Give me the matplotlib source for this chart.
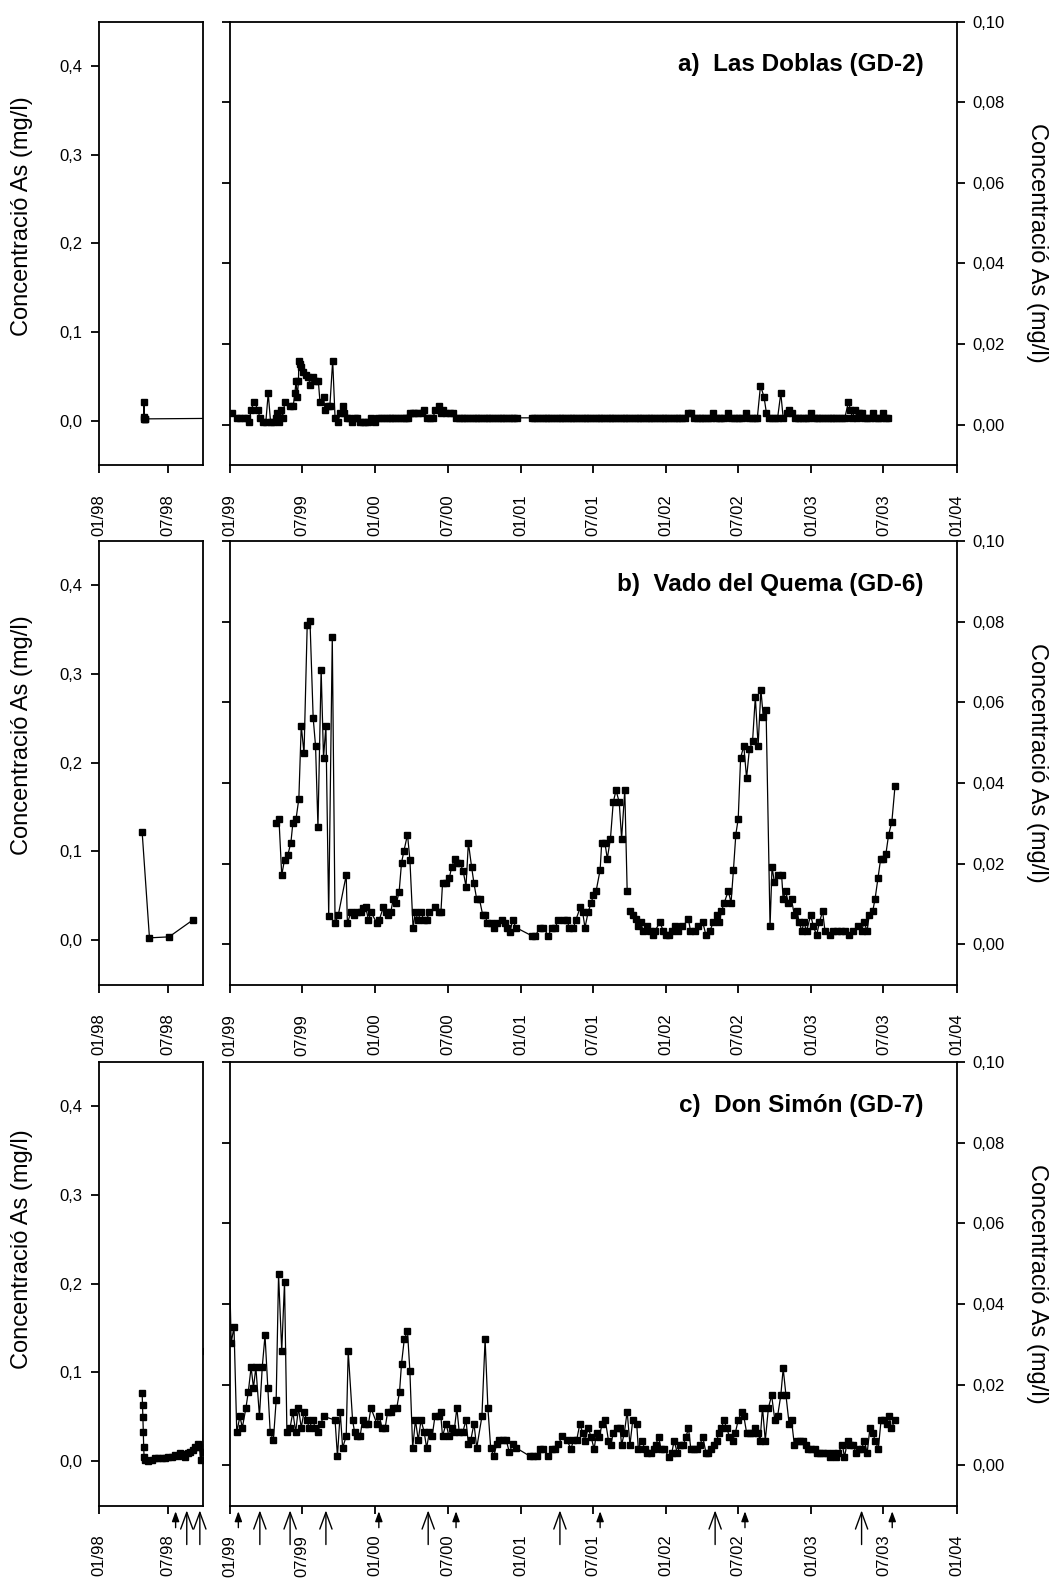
import numpy as np
import matplotlib
matplotlib.use("Agg")
import matplotlib.pyplot as plt
import matplotlib.dates as mdates
from matplotlib.ticker import FuncFormatter

plt.rcParams['font.family'] = ['Liberation Sans', 'DejaVu Sans']

NAN = float('nan')

# ------------------------------------------------------------------ data
panel_titles = ['a)  Las Doblas (GD-2)', 'b)  Vado del Quema (GD-6)', 'c)  Don Simón (GD-7)']
y_label = 'Concentració As (mg/l)'
left_yticks = [0.0, 0.1, 0.2, 0.3, 0.4]
right_yticks = [0.00, 0.02, 0.04, 0.06, 0.08, 0.10]
small_xticks = ['1998-01-01', '1998-07-01']
small_xticklabels = ['01/98', '07/98']
big_xticks = ['1999-01-01', '1999-07-01', '2000-01-01', '2000-07-01', '2001-01-01', '2001-07-01',
              '2002-01-01', '2002-07-01', '2003-01-01', '2003-07-01', '2004-01-01']
big_xticklabels = ['01/99', '07/99', '01/00', '07/00', '01/01', '07/01',
                   '01/02', '07/02', '01/03', '07/03', '01/04']

# 1998 samples: (days since 1998-01-01, As mg/l)
a98_obs = [(117, .0020), (118, .0205), (119, .0040), (120, .0020), (121, .0020)]
b98_obs = [(113, .1216), (132, .0026), (183, .0037), (244, .0225)]
c98_obs = [(113, .0766), (114, .0634), (115, .0494), (116, .0332), (117, .0155), (118, .0049),
           (120, .0011), (129, .0004), (138, .0011), (146, .0030), (155, .0030), (164, .0030),
           (172, .0030), (181, .0042), (190, .0049), (198, .0068), (205, .0057), (212, .0094),
           (218, .0079), (225, .0049), (231, .0094), (238, .0106), (244, .0125), (251, .0155),
           (257, .0193), (262, .0155), (265, .0011), (270, .0106), (278, .1240), (353, .0940)]

# 1999-2003 samples: (days since 1999-01-01, As mg/l)
a_obs = [
    (4, .0028), (17, .0017), (25, .0017), (34, .0017), (42, .0017), (48, .0006), (53, .0037), (61, .0057),
    (70, .0037), (75, .0017), (82, .0006), (90, .0006), (96, .0078), (102, .0006), (109, .0006), (116, .0017),
    (119, .0028), (123, .0006), (128, .0037), (132, .0017), (138, .0057), (151, .0047), (159, .0047), (163, .0078),
    (166, .0108), (169, .0068), (172, .0108), (173, .0159), (176, .0151), (179, .0142), (184, .0130), (191, .0122),
    (197, .0118), (201, .0099), (208, .0118), (214, .0108), (222, .0108), (226, .0057), (235, .0068), (239, .0037),
    (245, .0047), (251, .0047), (258, .0159), (264, .0017), (271, .0006), (277, .0028), (283, .0047), (287, .0028),
    (293, .0017), (300, .0017), (306, .0006), (313, .0017), (318, .0017), (327, .0006), (333, .0006), (339, .0006),
    (346, .0006), (354, .0017), (364, .0006), (373, .0017), (380, .0017), (387, .0017), (394, .0017), (401, .0017),
    (408, .0017), (415, .0017), (422, .0017), (429, .0017), (436, .0017), (443, .0017), (448, .0017), (452, .0028),
    (459, .0028), (466, .0028), (473, .0028), (482, .0028), (488, .0037), (494, .0017), (503, .0017), (511, .0017),
    (515, .0037), (524, .0047), (529, .0028), (534, .0037), (543, .0028), (553, .0028), (561, .0028), (568, .0017),
    (575, .0017), (582, .0017), (589, .0017), (596, .0017), (603, .0017), (610, .0017), (617, .0017), (624, .0017),
    (631, .0017), (638, .0017), (645, .0017), (652, .0017), (659, .0017), (666, .0017), (673, .0017), (680, .0017),
    (687, .0017), (694, .0017), (701, .0017), (708, .0017), (714, .0017), (720, .0017),
    (758, .0017), (765, .0017), (772, .0017), (779, .0017), (786, .0017), (793, .0017), (800, .0017), (807, .0017),
    (814, .0017), (821, .0017), (828, .0017), (835, .0017), (842, .0017), (849, .0017), (856, .0017), (863, .0017),
    (870, .0017), (877, .0017), (884, .0017), (891, .0017), (898, .0017), (905, .0017), (912, .0017), (919, .0017),
    (926, .0017), (933, .0017), (940, .0017), (947, .0017), (954, .0017), (961, .0017), (968, .0017), (975, .0017),
    (982, .0017), (989, .0017), (996, .0017), (1003, .0017), (1010, .0017), (1017, .0017), (1024, .0017), (1031, .0017),
    (1038, .0017), (1045, .0017), (1052, .0017), (1059, .0017), (1066, .0017), (1073, .0017), (1080, .0017), (1087, .0017),
    (1094, .0017), (1101, .0017), (1108, .0017), (1115, .0017), (1122, .0017), (1129, .0017), (1136, .0017), (1143, .0017),
    (1152, .0028), (1159, .0028), (1166, .0017), (1173, .0017), (1180, .0017), (1187, .0017), (1194, .0017), (1201, .0017),
    (1208, .0017), (1214, .0028), (1221, .0017), (1228, .0017), (1235, .0017), (1242, .0017), (1252, .0028), (1259, .0017),
    (1266, .0017), (1273, .0017), (1280, .0017), (1287, .0017), (1297, .0028), (1304, .0017), (1311, .0017), (1318, .0017),
    (1325, .0017), (1333, .0097), (1342, .0068), (1348, .0028), (1355, .0017), (1362, .0017), (1369, .0017), (1376, .0017),
    (1384, .0078), (1390, .0017), (1399, .0028), (1405, .0037), (1412, .0028), (1419, .0017), (1426, .0017), (1433, .0017),
    (1440, .0017), (1447, .0017), (1453, .0017), (1460, .0028), (1467, .0017), (1474, .0017), (1481, .0017), (1488, .0017),
    (1495, .0017), (1502, .0017), (1509, .0017), (1516, .0017), (1523, .0017), (1530, .0017), (1537, .0017), (1545, .0017),
    (1554, .0057), (1559, .0037), (1564, .0017), (1570, .0037), (1576, .0017), (1581, .0028), (1587, .0028), (1593, .0017),
    (1600, .0017), (1608, .0017), (1615, .0028), (1621, .0017), (1629, .0017), (1635, .0017), (1641, .0028), (1648, .0017),
    (1654, .0017)]

b_obs = [
    (116, .0301), (123, .0311), (130, .0171), (137, .0210), (145, .0220), (153, .0252), (158, .0301), (166, .0311),
    (173, .0361), (179, .0542), (186, .0473), (194, .0792), (201, .0801), (209, .0561), (215, .0491), (221, .0291),
    (229, .0681), (235, .0462), (241, .0542), (248, .0070), (257, .0761), (264, .0052), (272, .0072), (292, .0171),
    (295, .0052), (304, .0080), (311, .0072), (318, .0080), (328, .0080), (335, .0090), (341, .0091), (348, .0060),
    (354, .0080), (369, .0052), (375, .0060), (385, .0091), (391, .0080), (398, .0072), (404, .0080), (410, .0111),
    (418, .0101), (425, .0130), (431, .0202), (437, .0231), (446, .0272), (452, .0210), (460, .0041), (466, .0080),
    (472, .0060), (480, .0080), (487, .0060), (494, .0060), (501, .0080), (515, .0091), (524, .0080), (530, .0080),
    (534, .0151), (543, .0151), (551, .0163), (557, .0192), (565, .0212), (571, .0202), (578, .0202), (586, .0181),
    (593, .0143), (599, .0252), (607, .0192), (613, .0151), (620, .0111), (627, .0111), (635, .0072), (641, .0072),
    (647, .0052), (655, .0052), (663, .0041), (670, .0052), (684, .0060), (691, .0052), (697, .0041), (704, .0031),
    (710, .0060), (719, .0041), (758, .0021), (767, .0021), (779, .0041), (787, .0041), (800, .0021), (808, .0041),
    (817, .0041), (825, .0060), (838, .0060), (846, .0060), (853, .0041), (863, .0041), (869, .0060), (880, .0091),
    (886, .0080), (892, .0041), (900, .0080), (907, .0101), (913, .0121), (920, .0132), (930, .0184), (934, .0252),
    (942, .0252), (948, .0212), (956, .0262), (963, .0352), (970, .0382), (978, .0352), (984, .0262), (992, .0382),
    (998, .0132), (1001, NAN),
    (1005, .0082), (1012, .0072), (1020, .0062), (1026, .0044), (1032, .0054), (1038, .0033), (1049, .0044), (1055, .0033),
    (1062, .0022), (1068, .0033), (1080, .0054), (1089, .0033), (1095, .0022), (1104, .0022), (1110, .0033), (1118, .0044),
    (1126, .0033), (1137, .0044), (1152, .0062), (1157, .0033), (1168, .0033), (1177, .0044), (1188, .0054), (1196, .0022),
    (1206, .0033), (1214, .0054), (1223, .0072), (1229, .0054), (1235, .0082), (1242, .0103), (1252, .0132), (1259, .0103),
    (1265, .0184), (1271, .0272), (1277, .0311), (1283, .0462), (1291, .0492), (1298, .0412), (1305, .0483), (1313, .0503),
    (1320, .0613), (1327, .0492), (1334, .0631), (1340, .0563), (1347, .0582), (1357, .0044), (1362, .0192), (1368, .0153),
    (1378, .0172), (1386, .0172), (1390, .0111), (1396, .0132), (1403, .0103), (1411, .0111), (1418, .0072), (1425, .0082),
    (1430, .0054), (1437, .0033), (1442, .0054), (1449, .0033), (1459, .0072), (1466, .0044), (1474, .0022), (1481, .0054),
    (1489, .0082), (1495, .0033), (1508, .0022), (1516, .0033), (1526, .0033), (1536, .0033), (1546, .0033), (1556, .0022),
    (1566, .0033), (1579, .0044), (1587, .0033), (1593, .0054), (1601, .0033), (1606, .0072), (1615, .0082), (1621, .0113),
    (1628, .0163), (1635, .0212), (1642, .0212), (1648, .0223), (1655, .0272), (1663, .0303), (1671, .0392)]

c_obs = [
    (3, .0303), (10, .0343), (17, .0082), (25, .0121), (31, .0093), (40, .0142), (46, .0182), (53, .0243),
    (59, .0192), (65, .0243), (74, .0121), (81, .0243), (88, .0322), (95, .0192), (101, .0082), (109, .0062),
    (116, .0161), (122, .0473), (130, .0283), (137, .0454), (143, .0082), (151, .0093), (158, .0132), (165, .0082),
    (172, .0142), (179, .0093), (186, .0132), (193, .0112), (199, .0093), (208, .0112), (214, .0093), (220, .0082),
    (228, .0103), (235, .0121), (264, .0112), (270, .0022), (277, .0132), (283, .0043), (292, .0072), (297, .0283),
    (308, .0112), (313, .0082), (318, .0072), (327, .0072), (333, .0112), (339, .0103), (348, .0103), (354, .0142),
    (369, .0103), (375, .0121), (382, .0093), (390, .0093), (396, .0132), (404, .0132), (410, .0142), (419, .0142),
    (426, .0182), (431, .0252), (438, .0313), (446, .0332), (452, .0233), (459, .0043), (466, .0112), (473, .0062),
    (480, .0112), (488, .0082), (494, .0043), (501, .0082), (508, .0072), (515, .0121), (524, .0121), (529, .0132),
    (534, .0072), (543, .0103), (550, .0072), (557, .0093), (563, .0082), (570, .0142), (576, .0082), (585, .0082),
    (593, .0112), (599, .0052), (605, .0062), (613, .0103), (620, .0043), (633, .0121), (641, .0313), (648, .0142),
    (655, .0043), (663, .0022), (670, .0052), (677, .0062), (685, .0062), (694, .0062), (702, .0032), (710, .0052),
    (719, .0043), (754, .0022), (762, .0022), (771, .0022), (779, .0041), (787, .0041), (800, .0022), (808, .0041),
    (817, .0041), (825, .0052), (835, .0072), (846, .0062), (857, .0041), (863, .0062), (871, .0062), (879, .0102),
    (886, .0081), (892, .0061), (900, .0092), (907, .0071), (915, .0040), (921, .0081), (928, .0071), (935, .0102),
    (943, .0112), (951, .0061), (957, .0050), (963, .0081), (972, .0092), (980, .0092), (984, .0050), (991, .0081),
    (998, .0133), (1005, .0050), (1012, .0112), (1022, .0102), (1026, .0040), (1034, .0061), (1043, .0040), (1049, .0030),
    (1057, .0030), (1065, .0040), (1070, .0050), (1077, .0071), (1083, .0040), (1090, .0040), (1104, .0020), (1110, .0030),
    (1116, .0061), (1124, .0030), (1131, .0050), (1139, .0050), (1146, .0071), (1152, .0092), (1158, .0040), (1167, .0040),
    (1174, .0040), (1181, .0050), (1188, .0071), (1196, .0030), (1202, .0030), (1209, .0040), (1217, .0050), (1223, .0061),
    (1229, .0081), (1235, .0092), (1241, .0112), (1248, .0092), (1255, .0071), (1263, .0061), (1270, .0081), (1277, .0112),
    (1286, .0133), (1291, .0122), (1298, .0081), (1307, .0081), (1313, .0081), (1320, .0092), (1326, .0081), (1332, .0061),
    (1338, .0143), (1345, .0061), (1353, .0143), (1361, .0173), (1369, .0112), (1376, .0122), (1384, .0173), (1390, .0240),
    (1397, .0173), (1405, .0102), (1411, .0112), (1418, .0050), (1425, .0061), (1432, .0061), (1441, .0061), (1447, .0050),
    (1453, .0040), (1461, .0040), (1470, .0040), (1474, .0030), (1482, .0030), (1491, .0030), (1499, .0030), (1508, .0020),
    (1516, .0030), (1523, .0020), (1528, .0030), (1539, .0050), (1544, .0020), (1552, .0061), (1559, .0050), (1566, .0050),
    (1573, .0030), (1581, .0040), (1587, .0040), (1594, .0061), (1601, .0030), (1608, .0092), (1615, .0081), (1621, .0061),
    (1629, .0040), (1636, .0112), (1643, .0112), (1650, .0102), (1656, .0122), (1662, .0092), (1671, .0112)]

# sampling campaigns marked with arrows under panel c
c_events_short = ['1998-07-20', '1999-01-22', '2000-01-10', '2000-07-22', '2001-07-19', '2002-07-18', '2003-07-23']
c_events_long = ['1998-08-18', '1998-09-21', '1999-03-17', '1999-06-01', '1999-08-30', '2000-05-13',
                 '2001-04-09', '2002-05-04', '2003-05-07']

panels = [(a98_obs, a_obs, True), (b98_obs, b_obs, False), (c98_obs, c_obs, True)]


# ------------------------------------------------------------------ helpers
def build_series(obs98, obs, join):
    d98 = np.datetime64('1998-01-01') + np.array([o[0] for o in obs98], dtype='timedelta64[D]')
    d99 = np.datetime64('1999-01-01') + np.array([o[0] for o in obs], dtype='timedelta64[D]')
    v98 = [o[1] for o in obs98]
    v99 = [o[1] for o in obs]
    dates = list(d98)
    vals = list(v98)
    if not join:
        dates.append(np.datetime64('1998-11-01'))
        vals.append(NAN)
    dates += list(d99)
    vals += v99
    return mdates.date2num(np.array(dates, dtype='datetime64[D]')), np.array(vals, dtype=float)


comma1 = FuncFormatter(lambda v, p: f'{v:.1f}'.replace('.', ','))
comma2 = FuncFormatter(lambda v, p: f'{v:.2f}'.replace('.', ','))

W, Hpx = 1052, 1578
fig = plt.figure(figsize=(W / 100, Hpx / 100), dpi=100)

ax_tops = [21.5, 541.0, 1062.0]
ax_h = 443.5
small_l, small_w = 98.7, 104.6
big_l, big_w = 230.0, 726.7
left_label_y = [216, 735, 1249]

TS = 12
LW_SP = 1.3
TL = 6

for i, (obs98, obs, join) in enumerate(panels):
    top = ax_tops[i]
    bottom_frac = 1 - (top + ax_h) / Hpx
    axs = fig.add_axes([small_l / W, bottom_frac, small_w / W, ax_h / Hpx])
    axb = fig.add_axes([big_l / W, bottom_frac, big_w / W, ax_h / Hpx])

    x, y = build_series(obs98, obs, join)
    for ax in (axs, axb):
        ax.plot(x, y, '-', color='black', lw=0.9, marker='s', ms=3.8,
                mfc='black', mec='black', clip_on=True)
        for s in ax.spines.values():
            s.set_linewidth(LW_SP)

    # small 1998 axis (left scale)
    axs.set_xlim(mdates.date2num(np.datetime64('1998-01-01')), mdates.date2num(np.datetime64('1998-09-30')))
    axs.set_ylim(-0.05, 0.45)
    axs.set_yticks(left_yticks)
    axs.yaxis.set_major_formatter(comma1)
    axs.set_xticks(mdates.date2num(np.array(small_xticks, dtype='datetime64[D]')))
    axs.set_xticklabels(small_xticklabels, rotation=90)
    axs.tick_params(axis='x', direction='out', length=TL, width=LW_SP, pad=15, labelsize=TS)
    axs.tick_params(axis='y', direction='out', length=TL, width=LW_SP, pad=6, labelsize=TS)

    # main axis (right scale)
    axb.set_xlim(mdates.date2num(np.datetime64('1999-01-01')), mdates.date2num(np.datetime64('2004-01-01')))
    axb.set_ylim(-0.01, 0.10)
    axb.set_yticks(right_yticks)
    axb.yaxis.set_major_formatter(comma2)
    axb.set_xticks(mdates.date2num(np.array(big_xticks, dtype='datetime64[D]')))
    axb.set_xticklabels(big_xticklabels, rotation=90)
    axb.tick_params(axis='x', direction='out', length=TL, width=LW_SP, pad=15, labelsize=TS)
    axb.tick_params(axis='y', direction='out', length=TL, width=LW_SP, pad=5, labelsize=TS,
                    left=True, right=True, labelleft=False, labelright=True)

    axb.text(0.954, 0.902, panel_titles[i], transform=axb.transAxes, ha='right', va='center',
             fontsize=17.5, fontweight='bold')

    fig.text(22 / W, 1 - left_label_y[i] / Hpx, y_label, rotation=90, ha='center', va='center', fontsize=17)
    fig.text(1037 / W, 1 - (top + ax_h / 2) / Hpx, y_label, rotation=-90, ha='center', va='center',
             fontsize=17)

    if i == 2:
        for kind, events in (('short', c_events_short), ('long', c_events_long)):
            for e in events:
                ax = axs if e < '1999-01-01' else axb
                xe = mdates.date2num(np.datetime64(e))
                if kind == 'short':
                    props = dict(arrowstyle='-|>,head_length=0.6,head_width=0.22', color='black',
                                 lw=1.0, mutation_scale=10, shrinkA=0, shrinkB=0)
                    y0, y1 = -0.050, -0.013
                else:
                    props = dict(arrowstyle='->,head_length=0.6,head_width=0.22', color='black',
                                 lw=1.0, mutation_scale=20, shrinkA=0, shrinkB=0)
                    y0, y1 = -0.088, -0.011
                ax.annotate('', xy=(xe, y1), xytext=(xe, y0), xycoords=('data', 'axes fraction'),
                            textcoords=('data', 'axes fraction'), arrowprops=props,
                            annotation_clip=False)

fig.savefig('out.png', dpi=100, facecolor='white')
